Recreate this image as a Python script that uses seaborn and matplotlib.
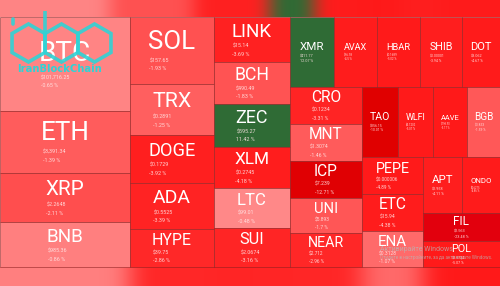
import numpy as np
import pandas as pd
import seaborn as sns
import matplotlib
matplotlib.use("Agg")
import matplotlib.pyplot as plt
from matplotlib.patches import Rectangle, RegularPolygon
from matplotlib.textpath import TextPath
from matplotlib.font_manager import FontProperties
from matplotlib.colors import to_rgb

# ---------------- data ----------------
symbols = ["BTC", "ETH", "XRP", "BNB", "SOL", "TRX", "DOGE", "ADA", "HYPE",
           "LINK", "BCH", "ZEC", "XLM", "LTC", "SUI", "XMR", "AVAX", "HBAR",
           "SHIB", "DOT", "CRO", "MNT", "ICP", "UNI", "NEAR", "TAO", "WLFI",
           "AAVE", "BGB", "PEPE", "ETC", "ENA", "APT", "ONDO", "FIL", "POL"]
prices = ["$101,716.25", "$3,391.34", "$2.2648", "$985.36", "$157.65", "$0.2891",
          "$0.1729", "$0.5525", "$39.75", "$15.14", "$490.49", "$595.27",
          "$0.2745", "$99.01", "$2.0674", "$411.77", "$16.98", "$0.1689",
          "$0.00001", "$3.062", "$0.1234", "$1.3074", "$7.239", "$5.893",
          "$2.712", "$356.15", "$0.1202", "$198.90", "$3.853", "$0.000006",
          "$15.94", "$0.3128", "$2.958", "$0.6275", "$2.563", "$0.1724"]
changes = [-0.65, -1.39, -2.11, -0.86, -1.93, -1.25, -3.92, -3.39, -2.86,
           -3.69, -1.83, 11.42, -4.18, -0.48, -3.16, 12.07, -4.5, -5.02,
           -3.94, -4.67, -3.31, -1.46, -12.71, -1.7, -2.96, -10.01, -5.07,
           -5.17, -1.59, -4.89, -4.38, -1.07, -4.11, -4.86, -23.48, -5.07]
weights = [12220, 8060, 6370, 5850, 5628, 4284, 4032, 3864, 3192,
           3420, 3192, 3268, 3116, 3040, 2964, 3080, 3010, 3010,
           2940, 2660, 2664, 2664, 2664, 2520, 2448, 2520, 2450,
           2380, 2310, 2257, 2257, 2196, 2184, 2128, 2156, 2002]

df = pd.DataFrame({"symbol": symbols, "price": prices,
                   "change": changes, "weight": weights})

# ---------------- style ----------------
sns.set_theme(style="white")
plt.rcParams["font.family"] = ["Roboto", "DejaVu Sans"]

W, H = 500, 286
TOP, BOT = 17, 267


def squarify(values, x0, y0, x1, y1, ratio=1.75):
    rects = []
    n = len(values)
    i0 = 0
    value = float(sum(values))
    while i0 < n:
        dx, dy = x1 - x0, y1 - y0
        i1 = i0
        s = values[i1]
        i1 += 1
        mn = mx = s
        alpha = max(dy / dx, dx / dy) / (value * ratio)
        beta = s * s * alpha
        minr = max(mx / beta, beta / mn)
        while i1 < n:
            v = values[i1]
            s2 = s + v
            mn2, mx2 = min(mn, v), max(mx, v)
            beta = s2 * s2 * alpha
            nr = max(mx2 / beta, beta / mn2)
            if nr > minr:
                break
            s, mn, mx, minr = s2, mn2, mx2, nr
            i1 += 1
        row = values[i0:i1]
        if dx < dy:
            h = dy * s / value if i1 < n else dy
            xx = x0
            for v in row:
                w = dx * v / s
                rects.append((xx, y0, w, h))
                xx += w
            y0 += h
        else:
            w = dx * s / value if i1 < n else dx
            yy = y0
            for v in row:
                hh = dy * v / s
                rects.append((x0, yy, w, hh))
                yy += hh
            x0 += w
        value -= s
        i0 = i1
    return rects


anchor_x = [0, 0.5, 1.0, 1.1, 2.2, 2.8, 4.0, 6.0, 10.0, 25.0]
anchor_c = ["#FF9292", "#FF8888", "#FF7C7C", "#FF6262", "#FF4C4C", "#FF2828",
            "#FF1E1E", "#FF1616", "#E00000", "#E2000E"]
anchor_rgb = np.array([to_rgb(c) for c in anchor_c])
GREEN = to_rgb("#2F6B35")


def color_for(c):
    if c >= 0:
        return GREEN
    t = min(-c, 25.0)
    return tuple(np.interp(t, anchor_x, anchor_rgb[:, k]) for k in range(3))


rects = squarify(list(df["weight"]), 0, TOP, W, BOT)
df["rect"] = rects
df["color"] = [color_for(c) for c in df["change"]]

fig = plt.figure(figsize=(5, 2.86), dpi=100)
ax = fig.add_axes([0, 0, 1, 1])
ax.set_xlim(0, W)
ax.set_ylim(H, 0)
ax.axis("off")


# ----- blurred strips (top / bottom), derived from edge tiles -----
def edge_colors(edge, shift, sigma):
    cols = np.zeros((W, 3))
    for (x, y, w, h), col in zip(df["rect"], df["color"]):
        touches = abs(y - TOP) < 0.5 if edge == "top" else abs(y + h - BOT) < 0.5
        if touches:
            a, b = int(round(x)), int(round(x + w))
            cols[a:b] = col
    cols = np.roll(cols, shift, axis=0)
    if shift < 0:
        cols[shift:] = cols[shift - 1]
    elif shift > 0:
        cols[:shift] = cols[shift]
    k = np.arange(-3 * sigma, 3 * sigma + 1)
    g = np.exp(-0.5 * (k / sigma) ** 2)
    g /= g.sum()
    pad = len(k) // 2
    out = np.zeros_like(cols)
    for ch in range(3):
        p = np.pad(cols[:, ch], pad, mode="edge")
        out[:, ch] = np.convolve(p, g, mode="valid")
    return out[None, :, :]


ax.imshow(edge_colors("top", -20, 9), extent=(0, W, TOP, 0), aspect="auto",
          interpolation="bilinear", zorder=0)
ax.imshow(edge_colors("bottom", 0, 12), extent=(0, W, H, BOT), aspect="auto",
          interpolation="bilinear", zorder=0)

fp = FontProperties(family="Roboto")


def ink_width(s, size):
    return TextPath((0, 0), s, size=size, prop=fp).get_extents().width


PX2PT = 72 / 100
for _, r in df.iterrows():
    x, y, w, h = r["rect"]
    ax.add_patch(Rectangle((x, y), w, h, facecolor=r["color"],
                           edgecolor=(0.55, 0.12, 0.12, 0.55), lw=0.7, zorder=2))
    tw1 = ink_width(r["symbol"], 1.0)
    Fraw = min(0.54 * w / tw1, 0.42 * h)
    F = min(Fraw, 28)
    S = float(np.clip(0.33 * F, 2.6, 5.4))
    gap = 0.37 * Fraw
    block = 0.71 * F + gap + 0.71 * S + 1.5 * S
    top = y + (h - block) / 2
    base_sym = top + 0.71 * F
    cx = x + w / 2
    ax.text(cx, base_sym, r["symbol"], color="white", fontsize=F * PX2PT,
            ha="center", va="baseline", zorder=4)
    left = cx - ink_width(r["symbol"], F) / 2
    b1 = base_sym + gap + 0.71 * S
    ax.text(left, b1, r["price"], color=(1, 0.9, 0.9, 0.9), fontsize=S * PX2PT,
            ha="left", va="baseline", zorder=4)
    ax.text(left, b1 + 1.5 * S, f"{r['change']:g} %", color=(1, 0.9, 0.9, 0.9),
            fontsize=S * PX2PT, ha="left", va="baseline", zorder=4)

# ----- logo watermark -----
cyan = "#2ED3D6"
for cxh in (28.5, 61.5, 94.5):
    ax.add_patch(RegularPolygon((cxh, 43), numVertices=6, radius=19,
                                facecolor="none", edgecolor=cyan, lw=2.6,
                                alpha=0.9, zorder=5))
ax.plot([45, 45], [11, 34], color=cyan, lw=2.6, alpha=0.9, zorder=5,
        solid_capstyle="butt")
ax.plot([13, 13], [19, 24], color=cyan, lw=2.6, alpha=0.9, zorder=5)
ax.text(60, 69.5, "IranBlockChain", color=cyan, fontsize=7.2, fontweight="bold",
        ha="center", va="center", zorder=5, family=["DejaVu Sans"])

# ----- OS watermark -----
ax.text(380, 251, "Активирайте Windows", color=(0.72, 0.72, 0.72, 0.75),
        fontsize=5.0, ha="left", va="baseline", zorder=6,
        family=["Roboto", "DejaVu Sans"])
ax.text(380, 258.5, "Отидете в настройките, за да активирате Windows.",
        color=(0.72, 0.72, 0.72, 0.75), fontsize=3.3, ha="left",
        va="baseline", zorder=6, family=["Roboto", "DejaVu Sans"])

fig.savefig("out.png", dpi=100)
